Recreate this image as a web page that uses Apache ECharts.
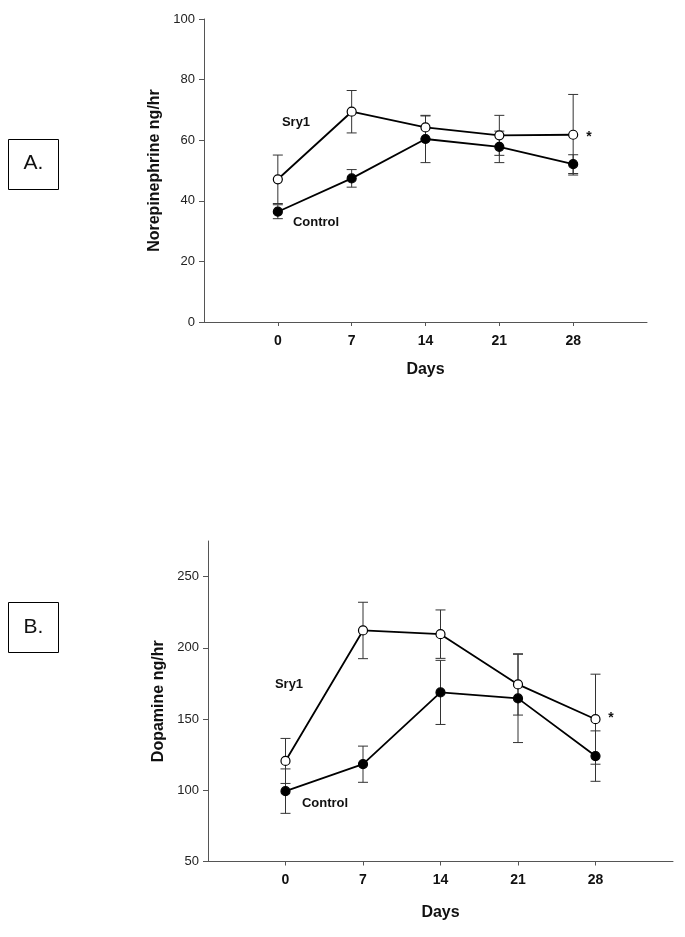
<!DOCTYPE html>
<html>
<head>
<meta charset="utf-8">
<script src="https://cdn.jsdelivr.net/npm/echarts@6/dist/echarts.min.js"></script>
<style>
html,body{margin:0;padding:0;background:#fff;}
#chart{width:685px;height:937px;}
</style>
</head>
<body>
<div id="chart"></div>
<script>
// ---- data ----
var days = [0, 7, 14, 21, 28];
var xTickLabels = [0, 7, 14, 21, 28];

// Panel A: Norepinephrine ng/hr
var neSry1 = [47.1, 69.4, 64.2, 61.6, 61.8];
var neSry1Err = [8.0, 7.0, 3.8, 6.6, 13.3];
var neControl = [36.4, 47.4, 60.4, 57.8, 52.1];
var neControlErr = [2.3, 2.9, 7.8, 5.2, 3.1];
var neYTicks = [0, 20, 40, 60, 80, 100];

// Panel B: Dopamine ng/hr
var daSry1 = [120.6, 212.2, 209.6, 174.3, 149.9];
var daSry1Err = [15.8, 19.8, 17.0, 21.5, 31.6];
var daControl = [99.4, 118.3, 168.7, 164.5, 124.0];
var daControlErr = [15.6, 12.7, 22.5, 31.0, 17.7];
var daYTicks = [50, 100, 150, 200, 250];

// ---- helpers ----
var FONT = '"Liberation Sans", Arial, Helvetica, sans-serif';

function pairs(xs, ys) {
  return xs.map(function (x, i) { return [x, ys[i]]; });
}
function errData(xs, ys, es) {
  return xs.map(function (x, i) { return [x, ys[i] - es[i], ys[i] + es[i]]; });
}
function renderErr(params, api) {
  var x = api.value(0);
  var lo = api.coord([x, api.value(1)]);
  var hi = api.coord([x, api.value(2)]);
  var hw = 5;
  var st = { stroke: '#333', lineWidth: 1 };
  return {
    type: 'group',
    children: [
      { type: 'line', shape: { x1: lo[0], y1: lo[1], x2: hi[0], y2: hi[1] }, style: st },
      { type: 'line', shape: { x1: lo[0] - hw, y1: lo[1], x2: lo[0] + hw, y2: lo[1] }, style: st },
      { type: 'line', shape: { x1: hi[0] - hw, y1: hi[1], x2: hi[0] + hw, y2: hi[1] }, style: st }
    ]
  };
}
function errSeries(idx, xs, ys, es) {
  return {
    type: 'custom', xAxisIndex: idx, yAxisIndex: idx, z: 1,
    renderItem: renderErr, data: errData(xs, ys, es), silent: true
  };
}
function lineSeries(idx, xs, ys, open) {
  return {
    type: 'line', xAxisIndex: idx, yAxisIndex: idx, z: 3,
    data: pairs(xs, ys), symbol: 'circle', symbolSize: 9,
    lineStyle: { color: '#000', width: 1.8 },
    itemStyle: { color: open ? '#fff' : '#000', borderColor: '#000', borderWidth: 1.2 },
    silent: true, animation: false
  };
}
function xAxis(idx) {
  return {
    type: 'value', gridIndex: idx, min: -7, max: 35, interval: 7,
    name: 'Days', nameLocation: 'middle', nameGap: idx === 0 ? 40 : 43,
    nameTextStyle: { fontFamily: FONT, fontWeight: 'bold', fontSize: 16, color: '#111' },
    axisLine: { onZero: false, lineStyle: { color: '#555', width: 1 } },
    axisTick: { show: true, length: 4, customValues: xTickLabels, lineStyle: { color: '#555' } },
    axisLabel: { customValues: xTickLabels, margin: 12, fontFamily: FONT, fontWeight: 'bold', fontSize: 14, color: '#111' },
    splitLine: { show: false }
  };
}
function yAxis(idx, min, max, interval, ticks, name) {
  return {
    type: 'value', gridIndex: idx, min: min, max: max, interval: interval,
    name: name, nameLocation: 'middle', nameGap: 40, nameRotate: 90,
    nameTextStyle: { fontFamily: FONT, fontWeight: 'bold', fontSize: 16, color: '#111' },
    axisLine: { show: true, onZero: false, lineStyle: { color: '#555', width: 1 } },
    axisTick: { show: true, inside: false, length: 5, customValues: ticks, lineStyle: { color: '#555' } },
    axisLabel: { customValues: ticks, margin: 9, fontFamily: FONT, fontSize: 13, color: '#222' },
    splitLine: { show: false }
  };
}
function txt(x, y, s, size, bold, align) {
  return {
    type: 'text', x: x, y: y,
    style: { text: s, font: (bold ? 'bold ' : '') + size + 'px ' + FONT, fill: '#111',
             textAlign: align || 'center', textVerticalAlign: 'middle' }
  };
}

var chart = echarts.init(document.getElementById('chart'), null, { renderer: 'canvas' });
chart.setOption({
  backgroundColor: '#fff',
  animation: false,
  grid: [
    { left: 204, top: 19, width: 443, height: 303 },
    { left: 208, top: 541, width: 465, height: 320.5 }
  ],
  xAxis: [xAxis(0), xAxis(1)],
  yAxis: [
    yAxis(0, 0, 100, 20, neYTicks, 'Norepinephrine ng/hr'),
    yAxis(1, 50, 275, 50, daYTicks, 'Dopamine ng/hr')
  ],
  series: [
    errSeries(0, days, neSry1, neSry1Err),
    errSeries(0, days, neControl, neControlErr),
    lineSeries(0, days, neSry1, true),
    lineSeries(0, days, neControl, false),
    errSeries(1, days, daSry1, daSry1Err),
    errSeries(1, days, daControl, daControlErr),
    lineSeries(1, days, daSry1, true),
    lineSeries(1, days, daControl, false)
  ],
  graphic: [
    { type: 'rect', shape: { x: 8.5, y: 139.5, width: 50, height: 50 }, style: { fill: 'none', stroke: '#000', lineWidth: 1 } },
    txt(33.5, 163, 'A.', 21, false),
    { type: 'rect', shape: { x: 8.5, y: 602.5, width: 50, height: 50 }, style: { fill: 'none', stroke: '#000', lineWidth: 1 } },
    txt(33.5, 627, 'B.', 21, false),
    txt(296, 122, 'Sry1', 13, true),
    txt(316, 222, 'Control', 13, true),
    txt(589, 137, '*', 14, true),
    txt(289, 684, 'Sry1', 13, true),
    txt(325, 803, 'Control', 13, true),
    txt(611, 718, '*', 14, true)
  ]
});
</script>
</body>
</html>
